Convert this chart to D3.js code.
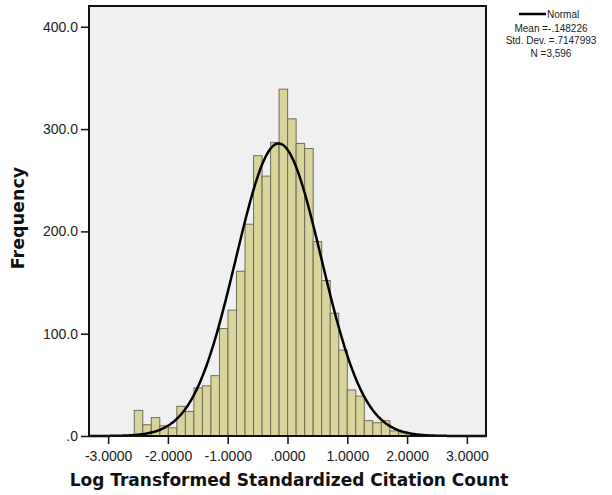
<!DOCTYPE html>
<html>
<head>
<meta charset="utf-8">
<script src="https://cdn.jsdelivr.net/npm/d3@7"></script>
<style>
  body { margin: 0; background: #fff; }
</style>
</head>
<body>
<div id="chart"></div>
<script>
// histogram counts (left to right)
var counts = [25, 11, 18, 10, 8, 29, 24, 47, 49, 59, 105, 123, 161, 207, 274, 254,
              287, 339, 310, 286, 281, 190, 152, 120, 84, 45, 39, 15, 13, 15, 5, 3];
var binStart = -2.563;
var binWidth = 0.1425;

var xTicks = [-3, -2, -1, 0, 1, 2, 3];
var yTicks = [0, 100, 200, 300, 400];

// normal curve stats from the legend
var mean = -0.148226;
var sd = 0.7147993;
var n = 3596;
var legendLines = ["Mean =-.148226", "Std. Dev. =.7147993", "N =3,596"];

drawChart();

function drawChart() {
    var width = 612, height = 495;
    var left = 89, top = 6, right = 486, bottom = 436;
    var bodyFont = "Liberation Sans, Arial, sans-serif";
    var titleFont = "DejaVu Sans, sans-serif";

    var svg = d3.select("#chart")
        .append("svg")
        .attr("width", width)
        .attr("height", height)
        .style("font-family", bodyFont);

    var x = d3.scaleLinear().domain([-3.32, 3.32]).range([left, right]);
    var y = d3.scaleLinear().domain([0, 420.3]).range([bottom, top]);

    // plot background
    svg.append("rect")
        .attr("x", left).attr("y", top)
        .attr("width", right - left).attr("height", bottom - top)
        .attr("fill", "#f0f0f0");

    var bins = counts.map(function(c, i) {
        return { x0: binStart + i * binWidth, x1: binStart + (i + 1) * binWidth, count: c };
    });

    svg.append("g")
        .selectAll("rect")
        .data(bins)
        .enter()
        .append("rect")
        .attr("x", function(d) { return x(d.x0); })
        .attr("y", function(d) { return y(d.count); })
        .attr("width", function(d) { return x(d.x1) - x(d.x0); })
        .attr("height", function(d) { return y(0) - y(d.count); })
        .attr("fill", "#d8d49c")
        .attr("stroke", "#6e6d55")
        .attr("stroke-width", 1);

    // normal curve scaled to counts
    var pts = d3.range(-3.32, 3.321, 0.02).map(function(v) {
        var z = (v - mean) / sd;
        return [v, n * binWidth * Math.exp(-0.5 * z * z) / (sd * Math.sqrt(2 * Math.PI))];
    });
    var line = d3.line()
        .x(function(d) { return x(d[0]); })
        .y(function(d) { return y(d[1]); })
        .curve(d3.curveBasis);
    svg.append("path")
        .datum(pts)
        .attr("d", line)
        .attr("fill", "none")
        .attr("stroke", "#000")
        .attr("stroke-width", 2.5);

    // frame
    svg.append("rect")
        .attr("x", left).attr("y", top)
        .attr("width", right - left).attr("height", bottom - top)
        .attr("fill", "none")
        .attr("stroke", "#111")
        .attr("stroke-width", 2);

    // SPSS style: hyphen minus, no leading zero
    var fmtX = function(d) {
        return d3.format(".4f")(d).replace("\u2212", "-").replace(/^(-?)0\./, "$1.");
    };
    var fmtY = function(d) { return d3.format(".1f")(d).replace(/^0\./, "."); };

    var xAxis = svg.append("g")
        .attr("transform", "translate(0," + bottom + ")")
        .call(d3.axisBottom(x).tickValues(xTicks).tickFormat(fmtX).tickSize(8).tickPadding(7));
    xAxis.select(".domain").remove();
    xAxis.selectAll("line").attr("stroke", "#111").attr("stroke-width", 1.5);
    xAxis.selectAll("text").attr("font-size", 14).attr("fill", "#222")
        .attr("font-family", bodyFont);

    var yAxis = svg.append("g")
        .attr("transform", "translate(" + left + ",0)")
        .call(d3.axisLeft(y).tickValues(yTicks).tickFormat(fmtY).tickSize(8).tickPadding(3));
    yAxis.select(".domain").remove();
    yAxis.selectAll("line").attr("stroke", "#111").attr("stroke-width", 1.5);
    yAxis.selectAll("text").attr("font-size", 14).attr("fill", "#222")
        .attr("font-family", bodyFont);

    // axis titles
    svg.append("text")
        .attr("x", 289)
        .attr("y", 486)
        .attr("text-anchor", "middle")
        .style("font-family", titleFont)
        .attr("font-size", 17)
        .attr("font-weight", "bold")
        .attr("fill", "#111")
        .text("Log Transformed Standardized Citation Count");

    svg.append("text")
        .attr("transform", "translate(24,218) rotate(-90)")
        .attr("text-anchor", "middle")
        .style("font-family", titleFont)
        .attr("font-size", 17.5)
        .attr("font-weight", "bold")
        .attr("fill", "#111")
        .text("Frequency");

    // legend
    svg.append("line")
        .attr("x1", 519).attr("x2", 546)
        .attr("y1", 14).attr("y2", 14)
        .attr("stroke", "#000")
        .attr("stroke-width", 2.5);
    svg.append("text")
        .attr("x", 547).attr("y", 17.5)
        .attr("font-size", 10)
        .attr("fill", "#222")
        .text("Normal");
    svg.append("g")
        .selectAll("text")
        .data(legendLines)
        .enter()
        .append("text")
        .attr("x", 551)
        .attr("y", function(d, i) { return 31.5 + i * 12.5; })
        .attr("text-anchor", "middle")
        .attr("font-size", 10)
        .attr("fill", "#222")
        .text(function(d) { return d; });
}
</script>
</body>
</html>
